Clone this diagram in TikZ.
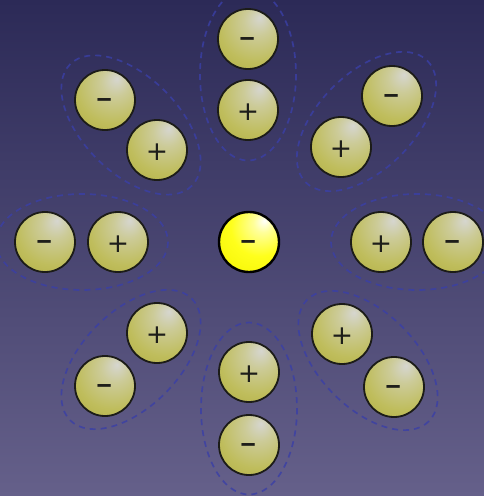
\documentclass[tikz,border=0pt]{standalone}
\usepackage{fontspec}
\newfontfamily\signfont{DejaVu Sans}
\definecolor{bgtop}{HTML}{2C2A57}
\definecolor{bgbot}{HTML}{65608A}
\definecolor{ringblue}{HTML}{3A3FA6}
\definecolor{ionedge}{HTML}{1C1C18}
\definecolor{signc}{HTML}{1E1E1A}
\definecolor{olA}{HTML}{D6D6D0}
\definecolor{olB}{HTML}{CCCB98}
\definecolor{olC}{HTML}{BFBD5C}
\definecolor{olD}{HTML}{B2AF44}
\definecolor{olE}{HTML}{A3A036}
\definecolor{olF}{HTML}{96922C}
\definecolor{yeA}{HTML}{FFFFFF}
\definecolor{yeB}{HTML}{FFFF9A}
\definecolor{yeC}{HTML}{FFFF1C}
\definecolor{yeD}{HTML}{F4F400}
\definecolor{yeE}{HTML}{E2E200}
\pgfdeclareradialshading{olivebal}{\pgfpoint{10bp}{18bp}}{color(0bp)=(olA); color(12bp)=(olB); color(30bp)=(olC); color(45bp)=(olD); color(60bp)=(olE); color(75bp)=(olF)}
\pgfdeclareradialshading{yellowbal}{\pgfpoint{13bp}{18bp}}{color(0bp)=(yeA); color(8bp)=(yeB); color(24bp)=(yeC); color(45bp)=(yeD); color(75bp)=(yeE)}
\tikzset{
  ion/.style={circle, minimum size=60pt, inner sep=0pt, draw=ionedge, line width=1.8pt,
    shade, shading=olivebal, text=signc, font=\signfont\fontsize{28}{28}\selectfont},
  centralion/.style={ion, shading=yellowbal, draw=black, line width=2.4pt},
  shell/.style={draw=ringblue, line width=1.7pt, dash pattern=on 6pt off 5pt, opacity=0.8}
}
\newcommand{\mns}{\raisebox{-9pt}[0pt][0pt]{\scalebox{1.8}[1.25]{-}}}
\newcommand{\pls}{\raisebox{-10pt}[0pt][0pt]{\scalebox{0.95}{+}}}
\begin{document}
\begin{tikzpicture}[x=1pt,y=-1pt]
\shade[top color=bgtop, bottom color=bgbot] (0,0) rectangle (484,496);
\useasboundingbox (0,0) rectangle (484,496);
% hydration shells
\draw[shell] (248,74.5) ellipse [x radius=48, y radius=86];
\draw[shell] (249,408.5) ellipse [x radius=48, y radius=86];
\draw[shell] (82,242) ellipse [x radius=86, y radius=48];
\draw[shell] (417,242) ellipse [x radius=86, y radius=48];
\draw[shell, rotate around={-45:(131,125)}] (131,125) ellipse [x radius=86, y radius=48];
\draw[shell, rotate around={45:(366.5,121.5)}] (366.5,121.5) ellipse [x radius=86, y radius=48];
\draw[shell, rotate around={45:(131,359.5)}] (131,359.5) ellipse [x radius=86, y radius=48];
\draw[shell, rotate around={-45:(368,360.5)}] (368,360.5) ellipse [x radius=86, y radius=48];
% ions
\node[ion] (tm) at (248,39) {\mns};
\node[ion] (tp) at (248,110) {\pls};
\node[ion] (ulm) at (105,100) {\mns};
\node[ion] (ulp) at (157,150) {\pls};
\node[ion] (urm) at (392,96) {\mns};
\node[ion] (urp) at (341,147) {\pls};
\node[ion] (lm) at (45,242) {\mns};
\node[ion] (lp) at (118,242) {\pls};
\node[centralion] (c) at (249,242) {\mns};
\node[ion] (rp) at (381,242) {\pls};
\node[ion] (rm) at (453,242) {\mns};
\node[ion] (llp) at (157,333) {\pls};
\node[ion] (llm) at (105,386) {\mns};
\node[ion] (bp) at (249,372) {\pls};
\node[ion] (bm) at (249,445) {\mns};
\node[ion] (lrp) at (342,334) {\pls};
\node[ion] (lrm) at (394,387) {\mns};
\end{tikzpicture}
\end{document}
